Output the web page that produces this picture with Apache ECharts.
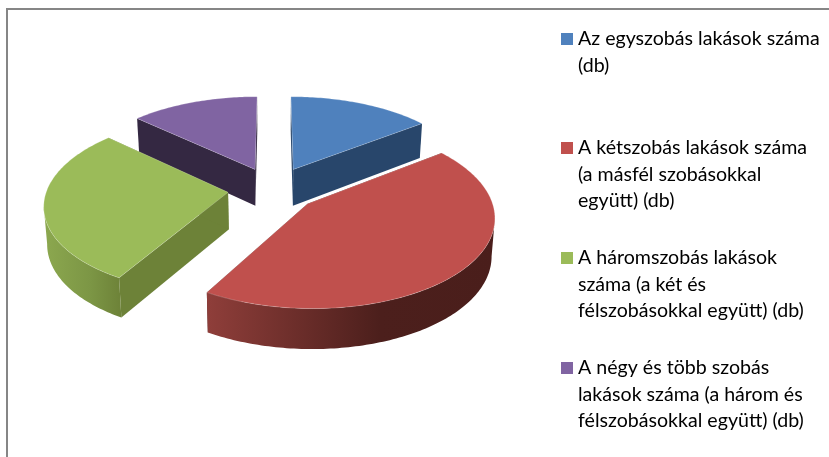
<!DOCTYPE html>
<html>
	<head>
		<meta charset="utf-8" />
		<title>Lakások száma</title>
		<style>
			html, body {
				width: 100%;
				height: 100%;
				margin: 0;
				padding: 0;
				background: #fff;
			}

			#main {
				width: 829px;
				height: 457px;
			}
		</style>
	</head>
	<body>
		<div id="main"></div>
		<script src="https://cdn.jsdelivr.net/npm/echarts@6/dist/echarts.min.js"></script>
		<script>
			// share of each flat type, percent
			var categories = [
				'Az egyszobás lakások száma\n(db)',
				'A kétszobás lakások száma\n(a másfél szobásokkal\negyütt) (db)',
				'A háromszobás lakások\nszáma (a két és\nfélszobásokkal együtt) (db)',
				'A négy és több szobás\nlakások száma (a három és\nfélszobásokkal együtt) (db)'
			];
			var shares = [14.7, 43.7, 28.4, 13.2];

			var colors = ['#4F81BD', '#C0504D', '#9BBB59', '#8064A2'];
			var cutColors = ['#28466B', '#4A1E1B', '#6D8238', '#342842'];
			var arcStops = [
				['#28466B', '#28466B', '#28466B'],
				['#8F3E3A', '#4C1F1C', '#4A1E1B'],
				['#8CA84F', '#7C9645', '#6D8238'],
				['#342842', '#342842', '#342842']
			];
			var explode = [0.258, 0.25, 0.25, 0.253];
			var drawRank = [1, 3, 2, 0];
			var legendTops = [26, 135, 245, 355];

			// pie plane seen in perspective
			var cx = 273, cy = 189, R = 181, S = 87, k = 0.13;

			var total = shares.reduce(function(a, b) { return a + b; }, 0);

			function toRad(share) {
				return share / total * Math.PI * 2;
			}

			// a, b: exploded offset of the slice on the pie plane
			function project(a, b, bottom) {
				var w = 1 - k * b;
				var x = cx + R * a / w;
				var y = cy + S * b / w;
				if (bottom) {
					x = cx + (x - cx) * 0.985;
					y += 37 + 3 * b;
				}
				return [x, y];
			}

			function renderSlice(params, api) {
				var i = params.dataIndex;
				var start = 0;
				for (var n = 0; n < i; n++) {
					start += toRad(shares[n]);
				}
				var end = start + toRad(api.value(0));
				var mid = (start + end) / 2;
				var ox = explode[i] * Math.sin(mid);
				var oy = -explode[i] * Math.cos(mid);
				var base = drawRank[i] * 10;
				var children = [];
				var step = Math.PI / 180;

				function rim(t, bottom) {
					return project(ox + Math.sin(t), oy - Math.cos(t), bottom);
				}

				var apex = project(ox, oy);
				var apexLow = project(ox, oy, true);

				// cut faces
				[start, end].forEach(function(t) {
					children.push({
						type: 'polygon',
						z2: base + 1,
						shape: { points: [apex, rim(t), rim(t, true), apexLow] },
						style: { fill: cutColors[i] }
					});
				});

				// rim, only the part turned to the viewer
				var from = 0, to = 0, maxX = -Infinity, minX = Infinity;
				for (var s = 0; s < 360; s++) {
					var sx = rim(s * step)[0];
					if (sx > maxX) { maxX = sx; from = s * step; }
					if (sx < minX) { minX = sx; to = s * step; }
				}
				from = Math.max(start, from);
				to = Math.min(end, to);
				if (to > from) {
					var upper = [], lower = [];
					for (var t = from; t < to; t += step) {
						upper.push(rim(t));
						lower.unshift(rim(t, true));
					}
					upper.push(rim(to));
					lower.unshift(rim(to, true));
					children.push({
						type: 'polygon',
						z2: base + 2,
						shape: { points: upper.concat(lower) },
						style: {
							fill: new echarts.graphic.LinearGradient(0, 0, 1, 0, [
								{ offset: 0, color: arcStops[i][0] },
								{ offset: 0.6, color: arcStops[i][1] },
								{ offset: 1, color: arcStops[i][2] }
							])
						}
					});
				}

				// top face
				var top = [apex];
				for (var a = start; a < end; a += step) {
					top.push(rim(a));
				}
				top.push(rim(end));
				children.push({
					type: 'polygon',
					z2: base + 3,
					shape: { points: top },
					style: { fill: colors[i], stroke: 'rgba(255,255,255,0.35)', lineWidth: 0.6 }
				});

				return { type: 'group', children: children };
			}

			var graphics = [{
				type: 'polyline',
				silent: true,
				shape: { points: [[7, 457], [7, 9], [829, 9]] },
				style: { fill: null, stroke: '#868686', lineWidth: 2 }
			}];
			categories.forEach(function(name, i) {
				graphics.push({
					type: 'rect',
					silent: true,
					shape: { x: 561, y: legendTops[i] + 7, width: 12, height: 12 },
					style: { fill: colors[i] }
				});
				graphics.push({
					type: 'text',
					silent: true,
					x: 578,
					y: legendTops[i],
					style: {
						text: name,
						fill: '#000',
						font: '19.6px Lato',
						lineHeight: 26.3
					}
				});
			});

			var chart = echarts.init(document.getElementById('main'), null, { renderer: 'canvas' });
			chart.setOption({
				animation: false,
				backgroundColor: '#fff',
				graphic: graphics,
				series: [{
					type: 'custom',
					coordinateSystem: 'none',
					silent: true,
					renderItem: renderSlice,
					data: shares.map(function(v, i) {
						return { name: categories[i], value: [v] };
					})
				}]
			});
		</script>
	</body>
</html>
